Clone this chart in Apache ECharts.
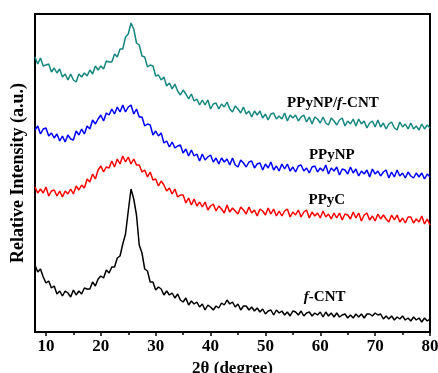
<!DOCTYPE html>
<html><head><meta charset="utf-8">
<script src="https://cdn.jsdelivr.net/npm/echarts@6/dist/echarts.min.js"></script>
<style>html,body{margin:0;padding:0;background:#fff}#c{width:438px;height:373px}</style>
</head><body><div id="c"></div>
<script>
// 2θ values (degree)
const twoTheta = [
8,8.5,9,9.5,10,10.5,11,11.5,12,12.5,
13,13.5,14,14.5,15,15.5,16,16.5,17,17.5,
18,18.5,19,19.5,20,20.5,21,21.5,22,22.5,
23,23.5,24,24.5,25,25.5,26,26.5,27,27.5,
28,28.5,29,29.5,30,30.5,31,31.5,32,32.5,
33,33.5,34,34.5,35,35.5,36,36.5,37,37.5,
38,38.5,39,39.5,40,40.5,41,41.5,42,42.5,
43,43.5,44,44.5,45,45.5,46,46.5,47,47.5,
48,48.5,49,49.5,50,50.5,51,51.5,52,52.5,
53,53.5,54,54.5,55,55.5,56,56.5,57,57.5,
58,58.5,59,59.5,60,60.5,61,61.5,62,62.5,
63,63.5,64,64.5,65,65.5,66,66.5,67,67.5,
68,68.5,69,69.5,70,70.5,71,71.5,72,72.5,
73,73.5,74,74.5,75,75.5,76,76.5,77,77.5,
78,78.5,79,79.5,80];

// Relative intensity (offset, a.u.)
const ppynpFcnt = [
275,268,274,266,267,268,260,264,259,263,
255,258,252,258,252,250,258,255,259,256,
262,258,266,262,266,263,271,270,270,278,
275,283,283,295,298,309,303,289,287,276,
275,265,267,266,256,257,252,255,246,249,
243,248,241,237,242,238,233,238,231,233,
227,232,227,232,223,228,229,223,228,225,
230,223,220,226,223,219,225,218,221,215,
221,217,221,214,218,212,218,219,213,216,
213,219,211,217,214,217,211,215,217,210,
215,208,215,213,209,215,209,207,214,211,
207,212,214,206,211,208,213,206,213,208,
211,204,209,211,205,212,205,209,203,208,
210,204,202,210,205,208,203,209,203,206,
202,208,203,207,204];

const ppynp = [
202,206,198,203,204,196,199,194,198,191,
196,190,197,193,192,201,197,203,198,206,
203,212,208,213,217,211,219,217,223,218,
225,220,227,220,225,227,218,223,215,215,
206,208,207,197,201,196,199,189,191,185,
190,184,186,187,179,183,176,182,176,178,
171,178,172,175,177,170,174,168,174,170,
173,167,174,167,165,172,169,165,170,171,
164,168,169,162,168,164,170,162,166,161,
168,163,168,161,165,160,166,167,161,164,
159,165,166,160,164,161,167,158,164,161,
165,157,163,162,158,165,159,163,156,161,
158,162,155,163,158,161,156,160,162,154,
160,155,162,156,159,154,160,156,154,159,
155,159,153,158,155];

const ppyc = [
145,139,143,139,145,136,141,142,136,141,
135,141,138,143,138,146,142,147,144,153,
150,158,153,162,166,160,165,164,171,165,
173,168,176,170,175,168,173,167,167,160,
162,155,160,152,153,146,151,147,141,144,
138,143,135,137,137,129,134,127,133,126,
130,125,130,122,126,128,121,126,123,119,
127,120,124,121,118,125,122,118,125,119,
122,116,123,121,117,124,118,123,116,121,
116,121,123,115,120,117,122,115,120,122,
114,120,116,119,114,121,115,118,113,119,
114,119,112,118,117,113,120,114,119,111,
117,119,112,116,111,118,113,117,113,110,
117,112,117,110,114,109,115,115,109,113,
110,116,108,113,107];

const fcnt = [
67,60,63,55,49,51,44,46,38,41,
36,41,39,35,42,37,41,38,44,43,
43,50,46,53,56,54,62,59,65,65,
74,76,88,98,121,143,133,117,87,79,
63,61,50,50,42,45,43,37,41,37,
39,34,38,32,30,34,27,31,28,30,
25,28,22,27,25,22,26,24,29,27,
32,28,30,25,28,22,26,26,22,25,
21,24,20,23,18,21,22,17,22,19,
21,17,20,16,21,20,17,21,16,19,
20,16,19,17,20,15,20,16,19,15,
19,15,17,18,14,17,14,18,15,18,
14,18,18,16,19,17,18,13,16,13,
16,12,15,13,16,12,14,11,15,12,
14,10,14,11,13];

const majorTicks = [10,20,30,40,50,60,70,80];
const minorTicks = [15,25,35,45,55,65,75];
const seriesNames = ['PPyNP/f-CNT','PPyNP','PPyC','f-CNT'];

const FONT = "'Liberation Serif','Times New Roman',serif";
const pairs = arr => twoTheta.map((x,i)=>[x,arr[i]]);

function tag(coord, formatter){
  return {
    symbol:'circle', symbolSize:2, silent:true, animation:false,
    itemStyle:{color:'rgba(0,0,0,0)'},
    data:[{coord:coord}],
    label:{show:true, position:'inside', formatter:formatter,
      color:'#000', fontFamily:FONT, fontWeight:'bold', fontSize:15,
      rich:{i:{fontStyle:'italic',fontWeight:'bold',fontFamily:FONT,fontSize:15,color:'#000'},
            n:{fontWeight:'bold',fontFamily:FONT,fontSize:15,color:'#000'}}}
  };
}

function line(name, arr, color, mp){
  return {name:name, type:'line', data:pairs(arr), showSymbol:false, symbol:'none',
    lineStyle:{color:color, width:1.5}, itemStyle:{color:color}, animation:false, markPoint:mp, z:2};
}

const chart = echarts.init(document.getElementById('c'), null, {renderer:'canvas'});
chart.setOption({
  animation:false,
  grid:{left:35, right:8, top:14, bottom:41, containLabel:false, outerBoundsMode:'none',
        show:true, borderColor:'#000', borderWidth:2, backgroundColor:'transparent'},
  xAxis:[{
    type:'value', min:8, max:80,
    name:'2θ (degree)', nameLocation:'middle', nameGap:23,
    nameTextStyle:{fontFamily:FONT, fontWeight:'bold', fontSize:17, color:'#000'},
    axisLine:{show:true, lineStyle:{color:'#000', width:2}},
    axisTick:{show:true, inside:false, length:4, lineStyle:{color:'#000', width:1.5}, customValues:majorTicks},
    axisLabel:{show:true, customValues:majorTicks, margin:6, fontFamily:FONT, fontWeight:'bold', fontSize:17, color:'#000'},
    splitLine:{show:false}
  },{
    type:'value', min:8, max:80, position:'bottom',
    axisLine:{show:false},
    axisTick:{show:true, length:3, lineStyle:{color:'#000', width:1.5}, customValues:minorTicks},
    axisLabel:{show:false},
    splitLine:{show:false}
  }],
  yAxis:{
    type:'value', min:0, max:318,
    name:'Relative Intensity (a.u.)', nameLocation:'middle', nameGap:8,
    nameTextStyle:{fontFamily:FONT, fontWeight:'bold', fontSize:18, color:'#000'},
    axisLine:{show:false}, axisTick:{show:false}, axisLabel:{show:false}, splitLine:{show:false}
  },
  series:[
    line(seriesNames[0], ppynpFcnt, '#16877f', tag([62.3,229], '{n|PPyNP/}{i|f}{n|-CNT}')),
    line(seriesNames[1], ppynp, '#0000ff', tag([62.1,177], '{n|PPyNP}')),
    line(seriesNames[2], ppyc, '#ff0000', tag([61.2,132], '{n|PPyC}')),
    line(seriesNames[3], fcnt, '#000000', tag([60.8,35], '{i|f}{n|-CNT}'))
  ]
});
</script></body></html>
